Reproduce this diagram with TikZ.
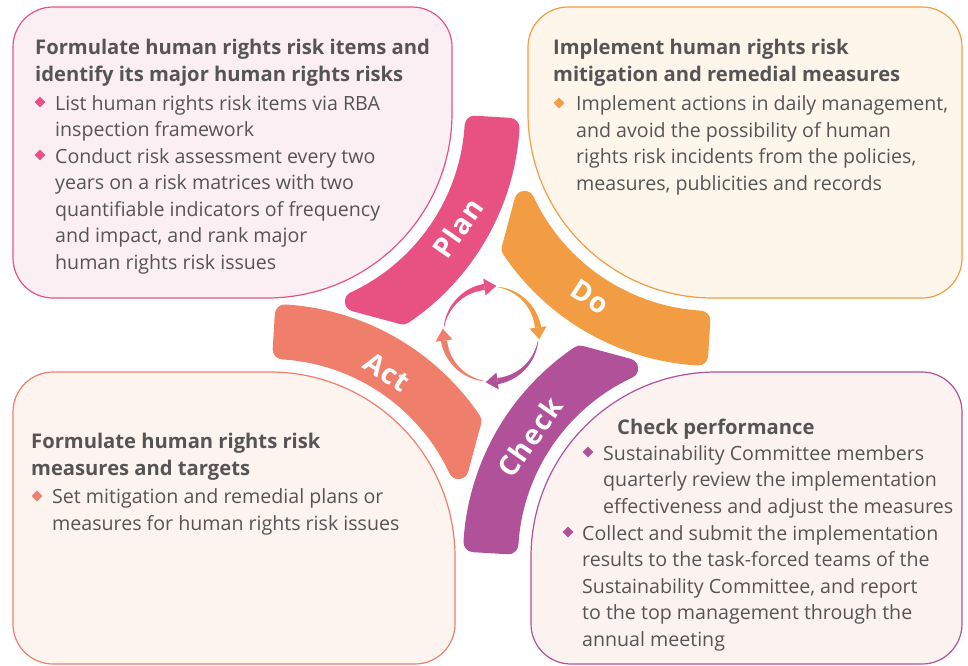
\documentclass[tikz,border=0pt]{standalone}
\usepackage{fontspec}
\setmainfont{Open Sans}
\usepackage{tikz}
\usetikzlibrary{calc,shapes.geometric}

\definecolor{plancol}{HTML}{E85282}
\definecolor{docol}{HTML}{F29D43}
\definecolor{checkcol}{HTML}{B05199}
\definecolor{actcol}{HTML}{EF7E6B}
\definecolor{planbg}{HTML}{FCEFF4}
\definecolor{dobg}{HTML}{FEF5EB}
\definecolor{checkbg}{HTML}{FCF3F0}
\definecolor{actbg}{HTML}{FDF3EF}
\definecolor{textgray}{HTML}{555555}

\begin{document}
\begin{tikzpicture}[x=1pt, y=1pt,
    txt/.style={anchor=base west, align=left, inner sep=0pt, text=textgray,
        font=\fontsize{19.6}{26.4}\selectfont},
    ttl/.style={txt, font=\fontsize{20.2}{26.4}\selectfont\bfseries},
    bul/.style={diamond, fill=#1, inner sep=0pt, minimum size=11pt},
    lbl/.style={text=white, inner sep=0pt,
        font=\fontsize{28}{30}\selectfont\bfseries\addfontfeature{LetterSpace=5}},
    box/.style={fill=#1bg, draw=#1col, line width=1.2pt}]
    \useasboundingbox (0,0) rectangle (968,-665);
    \fill[white] (0,0) rectangle (968,-665);

    % Keturi laukai su didelu kampu link centro
    \filldraw[box=plan] (267,-298) -- (53,-298) arc[start angle=270, end angle=180, radius=40pt]
        -- (13,-47) arc[start angle=180, end angle=90, radius=40pt]
        -- (412,-7) arc[start angle=90, end angle=0, radius=40pt]
        -- (452,-113) arc[start angle=0, end angle=-90, radius=185pt] -- cycle;
    \filldraw[box=do] (528,-113) arc[start angle=180, end angle=270, radius=185pt]
        -- (922,-298) arc[start angle=270, end angle=360, radius=40pt]
        -- (962,-47) arc[start angle=0, end angle=90, radius=40pt]
        -- (568,-7) arc[start angle=90, end angle=180, radius=40pt] -- cycle;
    \filldraw[box=act] (455,-557) arc[start angle=0, end angle=90, radius=185pt]
        -- (53,-372) arc[start angle=90, end angle=180, radius=40pt]
        -- (13,-624) arc[start angle=180, end angle=270, radius=40pt]
        -- (415,-664) arc[start angle=270, end angle=360, radius=40pt] -- cycle;
    \filldraw[box=check] (716,-372) arc[start angle=90, end angle=180, radius=185pt]
        -- (531,-624) arc[start angle=180, end angle=270, radius=40pt]
        -- (922,-664) arc[start angle=270, end angle=360, radius=40pt]
        -- (962,-412) arc[start angle=0, end angle=90, radius=40pt] -- cycle;

    % Lankai (PDCA)
    \foreach \cx/\cy/\b/\col in {267/-113/0/plancol, 713/-113/-90/docol,
        716/-557/-180/checkcol, 270/-557/90/actcol} {
        \filldraw[fill=\col, draw=\col, line width=20pt, line join=round]
            ($(\cx,\cy)+(\b-3.5:208)$) -- ($(\cx,\cy)+(\b-3.5:243)$)
            arc[start angle=\b-3.5, end angle=\b-56, radius=243pt]
            -- ($(\cx,\cy)+(\b-65:208)$)
            arc[start angle=\b-65, end angle=\b-3.5, radius=208pt] -- cycle;
    }
    \node[lbl, rotate=55] (plan) at (458,-228) {Plan};
    \node[lbl, rotate=-33] (do) at (590,-297) {Do};
    \node[lbl, rotate=-33] (act) at (387,-372) {Act};
    \node[lbl, rotate=55] (check) at (530,-437) {Check};

    % Rodyklės centre
    \begin{scope}[shift={(491,-334)}]
        \foreach \a/\col in {172/plancol, 82/docol, -8/checkcol, -98/actcol} {
            \fill[\col] plot[domain=0:74, samples=30] ({\a-\x}:{47.7+0.04*\x})
                -- plot[domain=74:0, samples=30] ({\a-\x}:{47.3-0.04*\x}) -- cycle;
            \fill[\col] (\a-74:39) -- (\a-88.3:48.5) -- (\a-74:56) -- cycle;
        }
    \end{scope}

    % Plan (base = paskutinės eilutės bazinė linija)
    \node[ttl] (plantitle) at (35,-81) {Formulate human rights risk items and\\identify its major human rights risks};
    \node[bul=plancol] (planb1) at (40,-102) {};
    \node[txt] (plantext1) at (55,-136.5) {List human rights risk items via RBA\\inspection framework};
    \node[bul=plancol] (planb2) at (40,-155) {};
    \node[txt] (plantext2) at (55,-269) {Conduct risk assessment every two\\years on a risk matrices with two\\quantifiable indicators of frequency\\and impact, and rank major\\human rights risk issues};

    % Do
    \node[ttl] (dotitle) at (553,-81) {Implement human rights risk\\mitigation and remedial measures};
    \node[bul=docol] (dob1) at (559,-103) {};
    \node[txt] (dotext1) at (576,-190) {Implement actions in daily management,\\and avoid the possibility of human\\rights risk incidents from the policies,\\measures, publicities and records};

    % Act
    \node[ttl] (acttitle) at (31,-475) {Formulate human rights risk\\measures and targets};
    \node[bul=actcol] (actb1) at (37,-496) {};
    \node[txt] (acttext1) at (52,-530) {Set mitigation and remedial plans or\\measures for human rights risk issues};

    % Check
    \node[ttl] (checktitle) at (617,-434) {Check performance};
    \node[bul=checkcol] (checkb1) at (588,-452) {};
    \node[txt] (checktext1) at (603,-513) {Sustainability Committee members\\quarterly review the implementation\\effectiveness and adjust the measures};
    \node[bul=checkcol] (checkb2) at (568,-532) {};
    \node[txt] (checktext2) at (582,-646) {Collect and submit the implementation\\results to the task-forced teams of the\\Sustainability Committee, and report\\to the top management through the\\annual meeting};
\end{tikzpicture}
\end{document}
